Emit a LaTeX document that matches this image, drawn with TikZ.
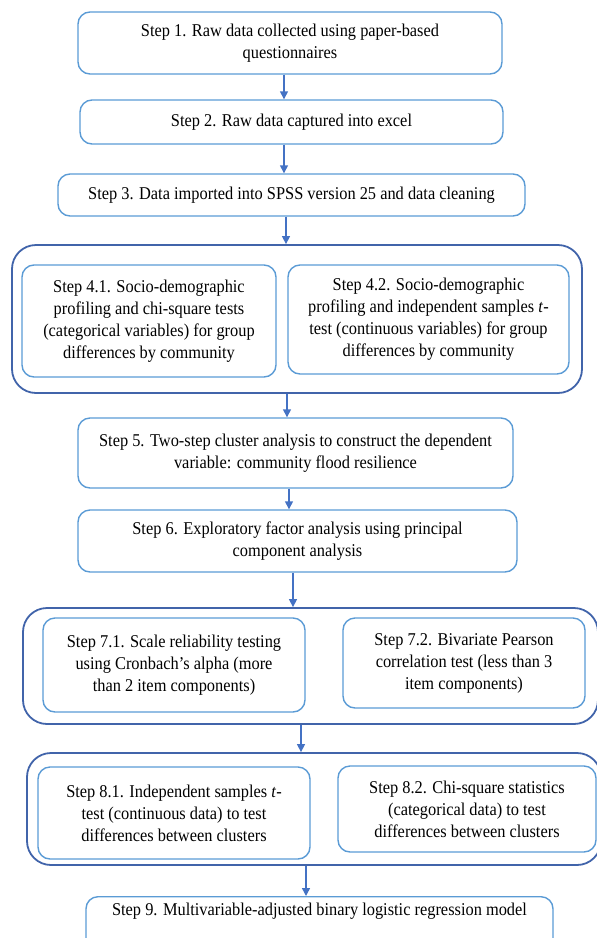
\documentclass[tikz,border=0pt]{standalone}
\usepackage{fontspec}
\setmainfont{Liberation Serif}[FakeStretch=0.91]
\usetikzlibrary{arrows.meta}
\definecolor{boxblue}{RGB}{91,155,213}
\definecolor{groupblue}{RGB}{65,100,170}
\definecolor{arrowblue}{RGB}{68,114,196}

\begin{document}
\begin{tikzpicture}
  [x=1pt,y=-1pt,
   every node/.style={align=center,font=\fontsize{18}{22}\selectfont,inner sep=0pt},
   stepbox/.style={draw=boxblue,line width=1.4pt,rounded corners=12pt},
   groupbox/.style={draw=groupblue,line width=1.8pt,rounded corners=24pt},
   flow/.style={draw=arrowblue,line width=1.4pt,-{Triangle[width=8pt,length=8pt]}}]
  \clip (0,0) rectangle (597,938);
  \node[groupbox,minimum width=570,minimum height=148] (g4) at (297,319) {};
  \node[groupbox,minimum width=575,minimum height=116] (g7) at (310.5,666) {};
  \node[groupbox,minimum width=574,minimum height=112] (g8) at (314,809) {};
  \node[stepbox,minimum width=424,minimum height=62] (s1) at (290,43)
    {Step 1. Raw data collected using paper-based\\questionnaires};
  \node[stepbox,minimum width=423,minimum height=44] (s2) at (291.5,122)
    {Step 2. Raw data captured into excel};
  \node[stepbox,minimum width=467,minimum height=42] (s3) at (291.5,195)
    {Step 3. Data imported into SPSS version 25 and data cleaning};
  \node[stepbox,minimum width=254,minimum height=112] (s41) at (149,321)
    {Step 4.1. Socio-demographic\\profiling and chi-square tests\\(categorical variables) for group\\differences by community};
  \node[stepbox,minimum width=281,minimum height=109] (s42) at (428.5,319.5)
    {Step 4.2. Socio-demographic\\profiling and independent samples \textit{t}-\\test (continuous variables) for group\\differences by community};
  \node[stepbox,minimum width=435,minimum height=70] (s5) at (295.5,453)
    {Step 5. Two-step cluster analysis to construct the dependent\\variable: community flood resilience};
  \node[stepbox,minimum width=439,minimum height=62] (s6) at (297.5,541)
    {Step 6. Exploratory factor analysis using principal\\component analysis};
  \node[stepbox,minimum width=262,minimum height=94] (s71) at (174,665)
    {Step 7.1. Scale reliability testing\\using Cronbach's alpha (more\\than 2 item components)};
  \node[stepbox,minimum width=242,minimum height=90] (s72) at (464,663)
    {Step 7.2. Bivariate Pearson\\correlation test (less than 3\\item components)};
  \node[stepbox,minimum width=272,minimum height=92] (s81) at (174,813)
    {Step 8.1. Independent samples \textit{t}-\\test (continuous data) to test\\differences between clusters};
  \node[stepbox,minimum width=258,minimum height=86] (s82) at (467,809)
    {Step 8.2. Chi-square statistics\\(categorical data) to test\\differences between clusters};
  \node[stepbox,minimum width=467,anchor=north,inner ysep=6pt,text depth=40pt] (s9) at (319.5,896)
    {Step 9. Multivariable-adjusted binary logistic regression model};
  \foreach \from/\to/\x in {s1/s2/284,s2/s3/284,s3/g4/286,g4/s5/287,s5/s6/289,s6/g7/293,g7/g8/301,g8/s9/306}
    \draw[flow] (\from.south -| \x,0) -- (\to.north -| \x,0);
\end{tikzpicture}
\end{document}
